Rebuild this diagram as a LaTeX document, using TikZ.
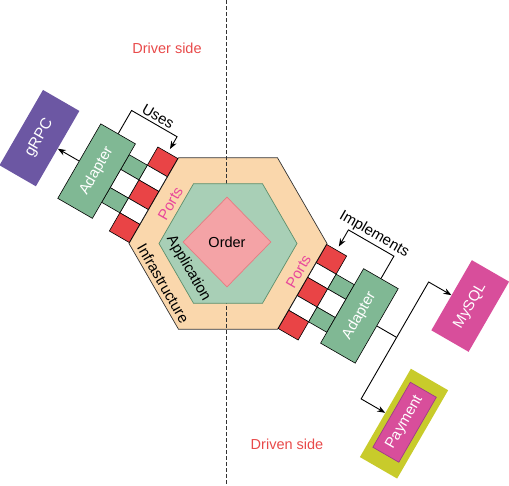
\documentclass[tikz,border=0pt]{standalone}
\usepackage{fontspec}
\setmainfont{Liberation Sans}
\usetikzlibrary{shapes.geometric,arrows.meta}
\definecolor{peach}{HTML}{FAD7AC}
\definecolor{appgreen}{HTML}{A8CFB6}
\definecolor{appstroke}{HTML}{5E8F6C}
\definecolor{orderpink}{HTML}{F4A3A6}
\definecolor{orderstroke}{HTML}{E57C82}
\definecolor{portred}{HTML}{E94446}
\definecolor{adgreen}{HTML}{80B894}
\definecolor{grpcpurple}{HTML}{6C57A3}
\definecolor{dbpink}{HTML}{D84E9B}
\definecolor{olive}{HTML}{C8CB2B}
\definecolor{paydark}{HTML}{9E3C88}
\definecolor{siderred}{HTML}{E84A4A}
\definecolor{portspink}{HTML}{E8489B}
\begin{document}
\begin{tikzpicture}[x=1pt,y=1pt,
  lbl/.style={font=\fontsize{15}{18}\selectfont, inner sep=0pt},
  wlbl/.style={lbl, text=white},
  conn/.style={line width=0.9pt, draw=black},
  arr/.style={-{Stealth[length=8pt,width=6pt]}},
  sqr/.style={draw=black, line width=0.6pt, inner sep=0pt, minimum width=23, minimum height=21},
  gapsq/.style={sqr, fill=white, minimum height=17},
  barsq/.style={draw=black, line width=0.6pt, inner sep=0pt, fill=adgreen, minimum width=21, minimum height=17},
  outsq/.style={draw=black, line width=0.6pt, inner sep=0pt, fill=white, minimum width=21, minimum height=21},
  adbox/.style={draw=black, line width=0.6pt, fill=adgreen, inner sep=0pt, rotate=90, minimum width=86, minimum height=40, font=\fontsize{15}{18}\selectfont, text=white}]
\useasboundingbox (0,0) rectangle (509,-485);

% hexagons
\node[regular polygon, regular polygon sides=6, minimum size=198, inner sep=0pt, fill=peach, draw=black!80, line width=0.7pt] (infra) at (228,-243.5) {};
\coordinate (dtop) at (226,0);
\coordinate (dbot) at (226,-485);
\draw[draw=black!80, line width=0.9pt, dash pattern=on 4pt off 2pt] (dtop) -- (dbot);
\node[regular polygon, regular polygon sides=6, minimum size=138, inner sep=0pt, fill=appgreen, draw=appstroke, line width=0.7pt] (app) at (228,-243.5) {};
\node[diamond, minimum width=88, minimum height=90, inner sep=0pt, fill=orderpink, draw=orderstroke, line width=0.7pt, font=\fontsize{14.5}{17}\selectfont] (order) at (227,-242) {Order};

\node[lbl, rotate=-60] (infralbl) at (163.3,-283.3) {Infrastructure};
\node[lbl, rotate=-60] (applbl) at (188.3,-268.3) {Application};

\node[lbl, text=siderred, font=\fontsize{14.5}{17}\selectfont] (driver) at (167,-48) {Driver side};
\node[lbl, text=siderred, font=\fontsize{14.5}{17}\selectfont] (driven) at (287,-444) {Driven side};

\begin{scope}[shift={(228,-243.5)}, rotate=-30, transform shape]
  % ---- left (driver) side ----
  \node[sqr, fill=portred] (pL1) at (-97.5,38) {};
  \node[gapsq] (wL1) at (-97.5,19) {};
  \node[sqr, fill=portred] (pL2) at (-97.5,0) {};
  \node[gapsq] (wL2) at (-97.5,-19) {};
  \node[sqr, fill=portred] (pL3) at (-97.5,-38) {};
  \node[barsq] (bL1) at (-119.5,19) {};
  \node[outsq] (oL1) at (-119.5,0) {};
  \node[barsq] (bL2) at (-119.5,-19) {};
  \node[adbox] (adL) at (-150,-3) {Adapter};
  \node[fill=grpcpurple, inner sep=0pt, rotate=90, minimum width=87, minimum height=42, font=\fontsize{15.5}{18}\selectfont, text=white] (grpc) at (-216,-3) {gRPC};
  \node[lbl, text=portspink, rotate=90] (portsL) at (-70,6) {Ports};
  \draw[conn, arr] (adL.north) -- (grpc.south);
  \coordinate (uA) at (-150,67);
  \coordinate (uB) at (-97.5,67);
  \draw[conn, arr, shorten >=4pt] (adL.east) -- (uA) -- (uB) -- (pL1.north);
  \node[lbl] (uses) at (-124,75) {Uses};

  % ---- right (driven) side ----
  \node[sqr, fill=portred] (pR1) at (97.5,38) {};
  \node[gapsq] (wR1) at (97.5,19) {};
  \node[sqr, fill=portred] (pR2) at (97.5,0) {};
  \node[gapsq] (wR2) at (97.5,-19) {};
  \node[sqr, fill=portred] (pR3) at (97.5,-38) {};
  \node[barsq] (bR1) at (119.5,19) {};
  \node[outsq] (oR1) at (119.5,0) {};
  \node[barsq] (bR2) at (119.5,-19) {};
  \node[adbox] (adR) at (150,3) {Adapter};
  \node[lbl, text=portspink, rotate=90] (portsR) at (75,11) {Ports};
  \coordinate (iA) at (150,72);
  \coordinate (iB) at (97.5,72);
  \draw[conn, arr, shorten >=4pt] (adR.east) -- (iA) -- (iB) -- (pR1.north);
  \node[lbl] (impl) at (122,81) {Implements};

  \node[fill=dbpink, inner sep=0pt, rotate=90, minimum width=81, minimum height=43, font=\fontsize{15}{18}\selectfont, text=white] (mysql) at (241,67) {MySQL};
  \node[fill=olive, inner sep=0pt, rotate=90, minimum width=102, minimum height=43] (payout) at (242.5,-68) {};
  \node[fill=dbpink, draw=paydark, line width=0.7pt, inner sep=0pt, rotate=90, minimum width=75, minimum height=30, font=\fontsize{15}{18}\selectfont, text=white] (payin) at (242.3,-66.5) {Payment};
  \coordinate (J) at (193,3);
  \coordinate (jm) at (193,67);
  \coordinate (jp) at (193,-68);
  \draw[conn] (adR.south) -- (J);
  \draw[conn, arr] (J) -- (jm) -- (mysql.north);
  \draw[conn, arr] (J) -- (jp) -- (payout.north);
\end{scope}
\end{tikzpicture}
\end{document}
